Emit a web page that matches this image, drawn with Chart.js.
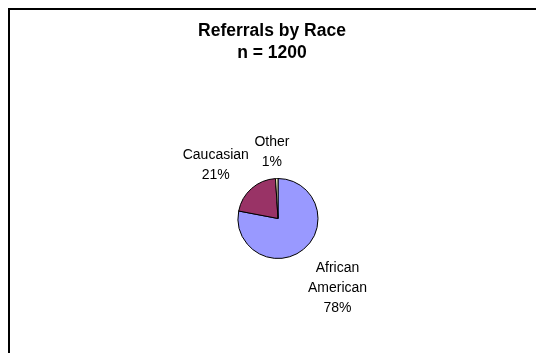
<!DOCTYPE html>
<html>
<head>
<meta charset="utf-8">
<script src="https://cdn.jsdelivr.net/npm/chart.js@4/dist/chart.umd.min.js"></script>
<style>
  html, body { margin: 0; padding: 0; background: #fff; }
  #wrap { width: 536px; height: 353px; }
</style>
</head>
<body>
<div id="wrap"><canvas id="myChart" width="536" height="353"></canvas></div>
<script>
let titleLines = ['Referrals by Race', 'n = 1200'];
let races = [['African', 'American'], ['Caucasian'], ['Other']];
let percents = [78, 21, 1];
let sliceColors = ['#9999FF', '#993366', '#FFFFCC'];

// frame line on the top and left edges, plus the two title lines
const framePlugin = {
  id: 'frame',
  beforeDraw(chart, args, opts) {
    const ctx = chart.ctx;
    ctx.save();
    ctx.fillStyle = '#000';
    ctx.fillRect(8, 8, chart.width, 2);
    ctx.fillRect(8, 8, 2, chart.height);
    ctx.font = 'bold 17.5px "Liberation Sans", Arial, sans-serif';
    ctx.textAlign = 'center';
    ctx.textBaseline = 'middle';
    titleLines.forEach((t, i) => ctx.fillText(t, opts.titleX, opts.titleY + i * opts.titleGap));
    ctx.restore();
  }
};

// category name and percent placed out from the middle of each slice
const sliceLabels = {
  id: 'sliceLabels',
  afterDatasetsDraw(chart, args, opts) {
    const ctx = chart.ctx;
    const meta = chart.getDatasetMeta(0);
    ctx.save();
    ctx.font = '14px "Liberation Sans", Arial, sans-serif';
    ctx.fillStyle = '#000';
    ctx.textAlign = 'center';
    ctx.textBaseline = 'middle';
    meta.data.forEach((arc, i) => {
      const p = arc.getProps(['x', 'y', 'startAngle', 'endAngle'], true);
      const mid = (p.startAngle + p.endAngle) / 2;
      const cx = p.x + Math.cos(mid) * opts.dist[i] + opts.nudge[i][0];
      const cy = p.y + Math.sin(mid) * opts.dist[i] + opts.nudge[i][1];
      const lines = races[i].concat([percents[i] + '%']);
      const top = cy - (lines.length - 1) * opts.lineGap / 2;
      lines.forEach((l, j) => ctx.fillText(l, cx, top + j * opts.lineGap));
    });
    ctx.restore();
  }
};

let ctx = document.getElementById('myChart').getContext('2d');

let chart = new Chart(ctx, {
  type: 'pie',
  data: {
    labels: races.map(r => r.join(' ')),
    datasets: [{
      data: percents,
      backgroundColor: sliceColors,
      borderColor: '#000',
      borderWidth: 1,
      radius: 40
    }]
  },
  options: {
    responsive: false,
    animation: false,
    layout: { padding: { left: 20, right: 0, top: 84, bottom: 0 } },
    plugins: {
      legend: { display: false },
      tooltip: { enabled: false },
      frame: { titleX: 272, titleY: 31.5, titleGap: 21.5 },
      sliceLabels: {
        dist: [91, 82, 66],
        nudge: [[1.5, 0], [-8, 8], [-4, 0]],
        lineGap: 20
      }
    }
  },
  plugins: [framePlugin, sliceLabels]
});
</script>
</body>
</html>
